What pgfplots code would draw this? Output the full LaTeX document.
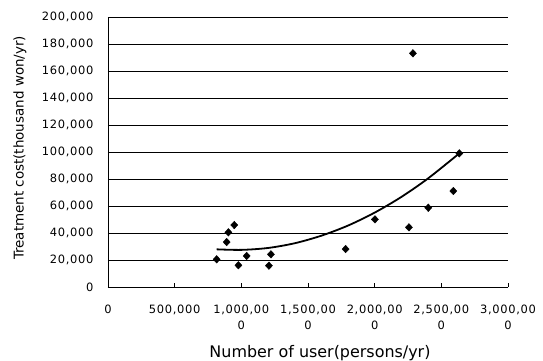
\documentclass[border=0pt]{standalone}
\usepackage{fontspec}
\setmainfont{DejaVu Sans}
\usepackage{pgfplots}
\pgfplotsset{compat=1.18}
\begin{document}
\begin{tikzpicture}
\useasboundingbox (-108bp,-74bp) rectangle (435bp,287bp);
\begin{axis}[
  at={(0,0)}, anchor=south west,
  scale only axis, width=400bp, height=270bp,
  xmin=0, xmax=3000000, ymin=0, ymax=200000,
  scaled ticks=false,
  axis x line*=bottom, axis y line*=left,
  axis line style={black, line width=0.9bp},
  xtick={0,500000,1000000,1500000,2000000,2500000,3000000},
  xticklabels={0,{500,000},{1,000,00\\0},{1,500,00\\0},{2,000,00\\0},{2,500,00\\0},{3,000,00\\0}},
  ytick={0,20000,40000,60000,80000,100000,120000,140000,160000,180000,200000},
  yticklabels={0,{20,000},{40,000},{60,000},{80,000},{100,000},{120,000},{140,000},{160,000},{180,000},{200,000}},
  xtick align=inside, major tick length=4bp,
  xtick style={black, line width=0.9bp},
  ytick style={draw=none},
  ymajorgrids, grid style={black, line width=0.8bp},
  tick label style={font=\fontsize{11.5}{17}\selectfont\addfontfeatures{LetterSpace=6}},
  xticklabel style={align=center, yshift=-14bp},
  yticklabel style={xshift=-11bp},
  xlabel={Number of user(persons/yr)},
  ylabel={Treatment cost(thousand won/yr)},
  xlabel style={font=\fontsize{16}{18}\selectfont, at={(axis description cs:0.53,-0.2444)}, anchor=center},
  ylabel style={font=\fontsize{13.5}{15}\selectfont, at={(axis description cs:-0.22,0.515)}, anchor=center},
  clip=false,
]
\addplot[only marks, mark=diamond*, mark size=3.8pt, mark options={black, xscale=1.25}] coordinates {
  (815000,20500) (890000,33300) (903000,40500) (947000,45900)
  (978000,16100) (1040000,23000) (1207000,15800) (1222000,24200)
  (1782000,28100) (2002000,50100) (2257000,44200) (2287000,173100)
  (2402000,58700) (2590000,71100) (2635000,99000)
};
\addplot[black, line width=1.8bp, smooth] coordinates {
  (815000,27900) (1000000,27500) (1200000,28900) (1400000,32400)
  (1600000,38000) (1800000,45500) (2000000,55100) (2200000,66700)
  (2400000,80400) (2635000,99000)
};
\end{axis}
\end{tikzpicture}
\end{document}
